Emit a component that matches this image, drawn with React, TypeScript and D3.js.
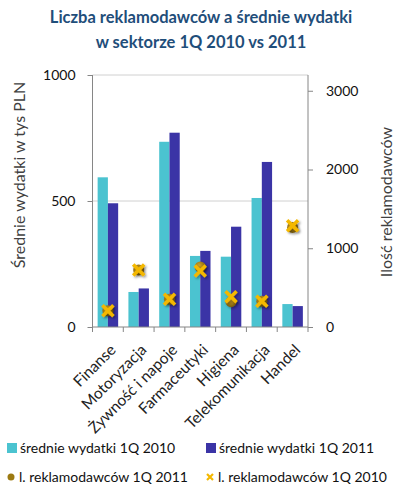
import React, { useEffect, useRef } from "react";
import * as d3 from "d3";

const categories = ["Finanse", "Motoryzacja", "Żywność i napoje", "Farmaceutyki", "Higiena", "Telekomunikacja", "Handel"];
const spend2010 = [594, 139, 735, 282, 279, 512, 91];
const spend2011 = [491, 153, 771, 302, 398, 655, 83];
const adv2011 = [207, 724, 352, 762, 321, 326, 1265];
const adv2010 = [207, 724, 352, 712, 385, 326, 1287];
const leftTicks = [0, 500, 1000];
const rightTicks = [0, 1000, 2000, 3000];

const cyan = "#4bc3d0";
const navy = "#3b34a6";
const gold = "#9c7a12";
const yellow = "#f4b800";
const font = "Lato, 'Open Sans', sans-serif";

const App = () => {
    const svgRef = useRef(null);

    useEffect(() => {
        const svg = d3.select(svgRef.current);
        svg.selectAll("*").remove();

        const left = 92.5, right = 308, top = 75, bottom = 327;

        const x = d3.scaleBand().domain(categories).range([left, right]);
        const yL = d3.scaleLinear().domain([0, 1000]).range([bottom, top]);
        const yR = d3.scaleLinear().domain([0, 3200]).range([bottom, top]);

        const defs = svg.append("defs");
        const grad = defs.append("radialGradient").attr("id", "goldGrad").attr("cx", "40%").attr("cy", "35%").attr("r", "65%");
        grad.append("stop").attr("offset", "0%").attr("stop-color", "#d4a62a");
        grad.append("stop").attr("offset", "100%").attr("stop-color", "#7a5c08");
        const shadow = defs.append("filter").attr("id", "shadow").attr("x", "-50%").attr("y", "-50%").attr("width", "200%").attr("height", "200%");
        shadow.append("feDropShadow").attr("dx", 1.5).attr("dy", 1.5).attr("stdDeviation", 1.2).attr("flood-color", "#000").attr("flood-opacity", 0.35);

        // Title
        const title = svg.append("text")
            .attr("x", 201)
            .attr("text-anchor", "middle")
            .style("font-family", font)
            .style("font-weight", "bold")
            .style("font-size", "16.5px")
            .attr("fill", "#1f4e7a");
        title.append("tspan").attr("x", 201).attr("y", 23).text("Liczba reklamodawców a średnie wydatki");
        title.append("tspan").attr("x", 201).attr("y", 48).text("w sektorze 1Q 2010 vs 2011");

        // Gridlines
        svg.append("g")
            .selectAll("line")
            .data(leftTicks.filter((d) => d > 0))
            .join("line")
            .attr("x1", left).attr("x2", right)
            .attr("y1", (d) => yL(d)).attr("y2", (d) => yL(d))
            .attr("stroke", "#d0d0d0");

        // Bars
        const inner = x.bandwidth() / 3;
        const pad = (x.bandwidth() - inner * 2) / 2;
        svg.append("g")
            .selectAll("rect")
            .data(categories)
            .join("rect")
            .attr("x", (d) => x(d) + pad)
            .attr("y", (d, i) => yL(spend2010[i]))
            .attr("width", inner)
            .attr("height", (d, i) => bottom - yL(spend2010[i]))
            .attr("fill", cyan);
        svg.append("g")
            .selectAll("rect")
            .data(categories)
            .join("rect")
            .attr("x", (d) => x(d) + pad + inner)
            .attr("y", (d, i) => yL(spend2011[i]))
            .attr("width", inner)
            .attr("height", (d, i) => bottom - yL(spend2011[i]))
            .attr("fill", navy);

        // Axes
        const leftAxis = svg.append("g")
            .attr("transform", `translate(${left},0)`)
            .call(d3.axisLeft(yL).tickValues(leftTicks).tickFormat(d3.format("d")).tickSize(5).tickPadding(12));
        const rightAxis = svg.append("g")
            .attr("transform", `translate(${right},0)`)
            .call(d3.axisRight(yR).tickValues(rightTicks).tickFormat(d3.format("d")).tickSize(5).tickPadding(13));
        const bottomAxis = svg.append("g")
            .attr("transform", `translate(0,${bottom})`)
            .call(d3.axisBottom(x).tickSize(5).tickFormat(() => ""));
        bottomAxis.selectAll(".tick").remove();
        bottomAxis.selectAll("line.cat")
            .data(d3.range(categories.length + 1))
            .join("line")
            .attr("x1", (i) => left + i * x.step())
            .attr("x2", (i) => left + i * x.step())
            .attr("y1", 0).attr("y2", 5)
            .attr("stroke", "#868686");

        [leftAxis, rightAxis, bottomAxis].forEach((g) => {
            g.select(".domain").attr("stroke", "#868686");
            g.selectAll(".tick line").attr("stroke", "#868686");
            g.selectAll("text")
                .style("font-family", font)
                .style("font-size", "14px")
                .attr("fill", "#111");
        });
        leftAxis.select(".domain").attr("d", `M0,${top}V${bottom}`);
        rightAxis.select(".domain").attr("d", `M0,${top}V${bottom}`);
        bottomAxis.select(".domain").attr("d", `M${left},0H${right}`);

        // Category labels
        svg.append("g")
            .selectAll("text")
            .data(categories)
            .join("text")
            .attr("transform", (d) => `translate(${x(d) + x.bandwidth() / 2 + 5},${bottom + 20}) rotate(-45)`)
            .attr("text-anchor", "end")
            .attr("dy", "0.35em")
            .style("font-family", font)
            .style("font-size", "15.5px")
            .attr("fill", "#222")
            .text((d) => d);

        // Axis titles
        svg.append("text")
            .attr("transform", "translate(25,175) rotate(-90)")
            .attr("text-anchor", "middle")
            .style("font-family", font)
            .style("font-size", "16px")
            .attr("fill", "#404040")
            .text("Średnie wydatki w tys PLN");
        svg.append("text")
            .attr("transform", "translate(392,202) rotate(-90)")
            .attr("text-anchor", "middle")
            .style("font-family", font)
            .style("font-size", "16px")
            .attr("fill", "#404040")
            .text("Ilość reklamodawców");

        // Markers
        const cx = (d) => x(d) + x.bandwidth() / 2;
        svg.append("g")
            .selectAll("circle")
            .data(categories)
            .join("circle")
            .attr("cx", cx)
            .attr("cy", (d, i) => yR(adv2011[i]))
            .attr("r", 5.5)
            .attr("fill", "url(#goldGrad)")
            .attr("filter", "url(#shadow)");
        svg.append("g")
            .selectAll("path")
            .data(categories)
            .join("path")
            .attr("d", (d, i) => {
                const px = cx(d), py = yR(adv2010[i]), s = 5.5;
                return `M${px - s},${py - s}L${px + s},${py + s}M${px - s},${py + s}L${px + s},${py - s}`;
            })
            .attr("stroke", yellow)
            .attr("stroke-width", 3.5)
            .attr("fill", "none")
            .attr("filter", "url(#shadow)");

        // Legend
        const legend = svg.append("g").style("font-family", font).style("font-size", "14px").attr("fill", "#111");
        const legendItems = [
            { label: "średnie wydatki 1Q 2010", kind: "rect", color: cyan, x: 7, y: 448 },
            { label: "średnie wydatki 1Q 2011", kind: "rect", color: navy, x: 206, y: 448 },
            { label: "l. reklamodawców 1Q 2011", kind: "circle", color: gold, x: 7, y: 477 },
            { label: "l. reklamodawców 1Q 2010", kind: "cross", color: yellow, x: 206, y: 477 },
        ];
        legendItems.forEach((item) => {
            if (item.kind === "rect") {
                legend.append("rect").attr("x", item.x).attr("y", item.y - 5).attr("width", 10).attr("height", 10).attr("fill", item.color);
            } else if (item.kind === "circle") {
                legend.append("circle").attr("cx", item.x + 4).attr("cy", item.y).attr("r", 3.5).attr("fill", item.color);
            } else {
                const px = item.x + 4, py = item.y, s = 3;
                legend.append("path")
                    .attr("d", `M${px - s},${py - s}L${px + s},${py + s}M${px - s},${py + s}L${px + s},${py - s}`)
                    .attr("stroke", item.color).attr("stroke-width", 2.2);
            }
            legend.append("text")
                .attr("x", item.x + (item.kind === "rect" ? 13 : 12))
                .attr("y", item.y)
                .attr("dy", "0.35em")
                .text(item.label);
        });
    }, []);

    return (
        <svg ref={svgRef} width={399} height={487} style={{ display: "block", position: "absolute", left: 0, top: 0, background: "#fff" }}></svg>
    );
};

export default App;
